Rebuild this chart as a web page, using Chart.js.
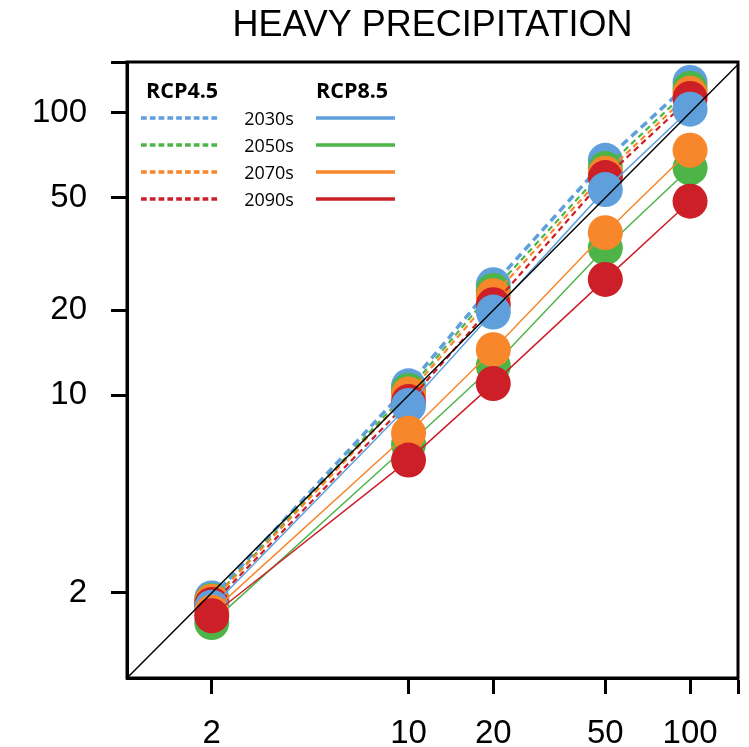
<!DOCTYPE html>
<html>
<head>
<meta charset="utf-8">
<script src="https://cdn.jsdelivr.net/npm/chart.js@4.4.1/dist/chart.umd.min.js"></script>
<style>
  html, body { margin: 0; padding: 0; background: #fff; }
  #wrap { width: 749px; height: 747px; }
</style>
</head>
<body>
<div id="wrap"><canvas id="c" width="749" height="747"></canvas></div>
<script>
// ---- data ----
const xValues = [2, 10, 20, 50, 100];
const rcp45_2030s = [1.92, 10.8, 24.6, 67.8, 127.8];
const rcp45_2050s = [1.88, 10.4, 23.5, 63.4, 121.8];
const rcp45_2070s = [1.87, 10.1, 22.5, 61.0, 117.0];
const rcp45_2090s = [1.82, 9.5, 20.9, 58.9, 112.2];
const rcp85_2030s = [1.78, 9.2, 19.7, 53.4, 102.8];
const rcp85_2050s = [1.57, 6.7, 12.7, 33.2, 63.7];
const rcp85_2070s = [1.71, 7.34, 14.5, 37.6, 73.6];
const rcp85_2090s = [1.66, 5.9, 11.0, 25.7, 48.6];
const decades = ['2030s', '2050s', '2070s', '2090s'];
const scenarios = ['RCP4.5', 'RCP8.5'];
const xTickValues = [2, 10, 20, 50, 100];
const yTickValues = [2, 10, 20, 50, 100];
const xRange = [1, 148];
const yRange = [1, 151];
const diagonalLine = [1, 151];
const titleText = 'HEAVY PRECIPITATION';

// ---- styles ----
const colors = ['#5fa0dc', '#4db548', '#f8862a', '#cc1f28'];

function pts(arr) { return xValues.map((x, i) => ({ x: x, y: arr[i] })); }

const series45 = [rcp45_2030s, rcp45_2050s, rcp45_2070s, rcp45_2090s];
const series85 = [rcp85_2030s, rcp85_2050s, rcp85_2070s, rcp85_2090s];

const datasets = [];
series45.forEach((s, i) => {
  datasets.push({
    label: scenarios[0] + ' ' + decades[i],
    data: pts(s),
    showLine: true,
    borderColor: colors[i],
    backgroundColor: colors[i],
    borderWidth: i === 0 ? 3.5 : 2.2,
    borderDash: i === 0 ? [8, 5] : [6, 4],
    pointRadius: 17.5,
    pointHoverRadius: 17.5,
    pointBorderWidth: 0,
    pointBackgroundColor: colors[i],
  });
});
series85.forEach((s, i) => {
  datasets.push({
    label: scenarios[1] + ' ' + decades[i],
    data: pts(s),
    showLine: true,
    borderColor: colors[i],
    backgroundColor: colors[i],
    borderWidth: 1.5,
    pointRadius: 17.5,
    pointHoverRadius: 17.5,
    pointBorderWidth: 0,
    pointBackgroundColor: colors[i],
  });
});
datasets.push({
  label: '1:1',
  data: diagonalLine.map(v => ({ x: v, y: v })),
  showLine: true,
  borderColor: '#000',
  borderWidth: 1.5,
  pointRadius: 0,
});
datasets.forEach((d, i) => { d.order = 100 - i; });

const decorPlugin = {
  id: 'decor',
  afterDraw(chart) {
    const ctx = chart.ctx;
    const a = chart.chartArea;
    ctx.save();
    // box
    ctx.strokeStyle = '#000';
    ctx.lineWidth = 3;
    ctx.strokeRect(a.left, a.top, a.right - a.left, a.bottom - a.top);
    // title
    ctx.fillStyle = '#000';
    ctx.font = '36px "Liberation Sans", Arial, sans-serif';
    ctx.textAlign = 'center';
    ctx.textBaseline = 'middle';
    ctx.fillText(titleText, (a.left + a.right) / 2, 26);
    // legend
    ctx.textAlign = 'left';
    ctx.font = 'bold 21.5px "Open Sans", sans-serif';
    ctx.fillText(scenarios[0], 146, 92);
    ctx.fillText(scenarios[1], 316, 92);
    const rows = [118, 145, 172, 199];
    ctx.font = '18px "Open Sans", sans-serif';
    ctx.textAlign = 'center';
    rows.forEach((y, i) => {
      ctx.fillStyle = '#000';
      ctx.fillText(decades[i], 269, y + 2);
      ctx.strokeStyle = colors[i];
      ctx.lineWidth = 3.3;
      ctx.setLineDash([5.7, 3.1]);
      ctx.beginPath(); ctx.moveTo(141, y); ctx.lineTo(220, y); ctx.stroke();
      ctx.setLineDash([]);
      ctx.lineWidth = 3.5;
      ctx.beginPath(); ctx.moveTo(316, y); ctx.lineTo(395, y); ctx.stroke();
    });
    ctx.restore();
  }
};

const tickFont = { family: '"Liberation Sans", Arial, sans-serif', size: 33 };

new Chart(document.getElementById('c'), {
  type: 'scatter',
  data: { datasets: datasets },
  options: {
    responsive: false,
    animation: false,
    events: [],
    layout: { autoPadding: false, padding: { top: 62, right: 11, bottom: 0, left: 0 } },
    plugins: { legend: { display: false }, tooltip: { enabled: false }, title: { display: false } },
    scales: {
      x: {
        type: 'logarithmic',
        min: xRange[0], max: xRange[1],
        afterBuildTicks: (s) => { s.ticks = xTickValues.concat([xRange[1]]).map(v => ({ value: v })); },
        afterFit: (s) => { s.height = 69; s.paddingLeft = 0; s.paddingRight = 0; },
        ticks: {
          autoSkip: false, maxRotation: 0, minRotation: 0,
          color: '#000', font: tickFont, padding: 20,
          callback: (v) => xTickValues.includes(v) ? String(v) : ''
        },
        grid: { drawOnChartArea: false, drawTicks: true, tickLength: 16, tickWidth: 3, tickColor: '#000' },
        border: { display: true, color: '#000', width: 3 }
      },
      y: {
        type: 'logarithmic',
        min: yRange[0], max: yRange[1],
        afterBuildTicks: (s) => { s.ticks = yTickValues.concat([yRange[1]]).map(v => ({ value: v })); },
        afterFit: (s) => { s.width = 127; s.paddingTop = 0; s.paddingBottom = 0; },
        ticks: {
          autoSkip: false,
          color: '#000', font: tickFont, padding: 24,
          callback: (v) => yTickValues.includes(v) ? String(v) : ''
        },
        grid: { drawOnChartArea: false, drawTicks: true, tickLength: 16, tickWidth: 3, tickColor: '#000' },
        border: { display: true, color: '#000', width: 3 }
      }
    }
  },
  plugins: [decorPlugin]
});
</script>
</body>
</html>
